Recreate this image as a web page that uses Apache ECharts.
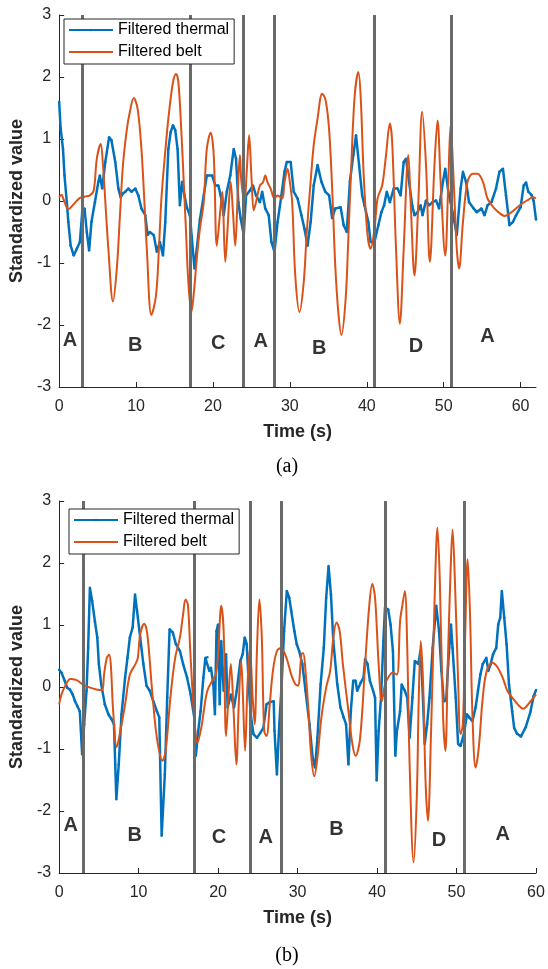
<!DOCTYPE html>
<html>
<head>
<meta charset="utf-8">
<script src="https://cdn.jsdelivr.net/npm/echarts@6/dist/echarts.min.js"></script>
<style>html,body{margin:0;padding:0;background:#fff;}#c{width:548px;height:969px;}</style>
</head>
<body>
<div id="c"></div>
<script>
// ---- data (time s, standardized value) ----
const xTicksA = [0, 10, 20, 30, 40, 50, 60];
const xTicksB = [0, 10, 20, 30, 40, 50, 60];
const boundaries = [3, 17, 24, 28, 41, 51];
const regionNames = ['A', 'B', 'C', 'A', 'B', 'D', 'A'];
const regionPosA = [[1.4,-2.25],[9.9,-2.33],[20.7,-2.3],[26.2,-2.27],[33.8,-2.38],[46.4,-2.35],[55.7,-2.19]];
const regionPosB = [[1.45,-2.24],[9.5,-2.39],[20.1,-2.42],[26.0,-2.42],[34.9,-2.3],[47.8,-2.48],[55.8,-2.38]];

const thermalA = [[0,1.6],[0.2,1.17],[0.5,0.84],[0.7,0.41],[1.0,-0.02],[1.2,-0.34],[1.5,-0.72],[1.9,-0.88],[2.3,-0.77],[2.7,-0.66],[3.0,-0.18],[3.3,-0.12],[3.6,-0.5],[3.9,-0.8],[4.2,-0.34],[4.65,-0.02],[5.1,0.31],[5.3,0.41],[5.6,0.2],[6.0,0.63],[6.5,1.03],[6.8,0.98],[7.3,0.63],[7.7,0.2],[8.0,0.06],[8.3,0.12],[8.6,0.15],[9.0,0.2],[9.4,0.15],[9.9,0.2],[10.3,0.09],[10.7,-0.12],[11.2,-0.23],[11.5,-0.55],[11.8,-0.5],[12.3,-0.55],[12.7,-0.82],[13.1,-0.66],[13.5,-0.88],[13.8,-0.34],[14.2,0.84],[14.5,1.11],[14.8,1.22],[15.1,1.14],[15.4,0.84],[15.7,-0.07],[16.0,0.31],[16.3,0.09],[16.6,-0.1],[17.0,-0.23],[17.6,-1.09],[17.9,-0.77],[18.3,-0.3],[18.8,0.09],[19.2,0.41],[19.9,0.41],[20.3,0.25],[20.7,0.25],[21.0,0.09],[21.4,-0.23],[21.8,0.15],[22.25,0.41],[22.7,0.84],[23.0,0.68],[23.3,-0.02],[23.6,-0.28],[24.0,-0.55],[24.3,0.09],[24.8,0.17],[25.2,0.25],[25.6,0.09],[26.1,-0.02],[26.4,0.15],[26.8,-0.12],[27.25,-0.23],[27.6,-0.66],[28.0,-0.82],[28.4,-0.34],[28.9,0.09],[29.3,0.47],[29.6,0.63],[30.1,0.63],[30.5,0.15],[31.0,0.04],[31.5,-0.23],[31.9,-0.45],[32.3,-0.72],[32.7,-0.34],[33.1,0.25],[33.6,0.58],[34.1,0.31],[34.6,0.15],[35.1,0.09],[35.5,-0.28],[35.9,-0.12],[36.6,-0.1],[37.0,-0.39],[37.4,-0.5],[37.8,0.31],[38.25,0.74],[38.6,1.06],[39.0,0.58],[39.4,0.09],[39.7,-0.07],[40.2,-0.34],[40.5,-0.66],[41.0,-0.66],[41.5,-0.39],[41.9,-0.18],[42.25,-0.07],[42.6,0.15],[43.0,-0.02],[43.5,0.2],[44.0,0.2],[44.4,0.09],[44.8,0.63],[45.1,0.68],[45.5,0.31],[45.9,-0.07],[46.2,-0.23],[46.6,-0.18],[47.0,-0.07],[47.25,-0.23],[47.7,0.01],[48.1,-0.07],[48.55,-0.02],[49.0,0.01],[49.4,-0.12],[49.9,0.31],[50.2,0.52],[50.6,0.15],[50.9,-0.02],[51.4,-0.34],[51.7,-0.55],[52.2,0.2],[52.5,0.47],[52.9,0.31],[53.3,-0.02],[53.9,-0.12],[54.3,-0.18],[54.9,-0.12],[55.3,-0.23],[55.7,-0.07],[56.2,-0.02],[56.8,0.2],[57.25,0.47],[57.7,0.52],[58.1,0.09],[58.55,-0.39],[59.0,-0.34],[59.4,-0.23],[60.0,-0.1],[60.4,0.25],[60.7,0.3],[61.0,0.15],[61.4,0.1],[61.7,0.0],[62.0,-0.3]];

const beltA = [[0,0.06],[0.3,0.1],[0.6,0.02],[1.2,-0.13],[1.9,-0.05],[2.7,0.05],[3.3,0.07],[4.0,0.09],[4.5,0.17],[4.9,0.68],[5.4,0.92],[5.7,0.58],[6.1,-0.2],[6.4,-0.77],[7.0,-1.62],[7.5,-1.09],[7.9,-0.25],[8.3,0.58],[8.8,1.15],[9.2,1.44],[9.7,1.66],[10.2,1.49],[10.7,0.84],[11.1,-0.05],[11.4,-0.77],[12.0,-1.84],[12.6,-1.52],[13.0,-0.7],[13.3,0.04],[13.8,0.8],[14.2,1.33],[14.6,1.75],[14.9,1.97],[15.2,2.05],[15.5,1.92],[15.9,1.1],[16.2,0.31],[16.5,-0.5],[16.8,-1.31],[17.2,-1.79],[17.5,-1.5],[17.9,-0.93],[18.3,-0.45],[18.8,-0.02],[19.2,0.84],[19.7,1.1],[20.1,0.74],[20.5,-0.72],[20.9,-0.23],[21.2,0.15],[21.6,-0.98],[21.9,-0.45],[22.3,0.31],[22.6,-0.18],[22.9,-0.72],[23.2,0.04],[23.5,0.74],[23.7,0.31],[24.1,-0.02],[24.4,0.5],[24.7,1.06],[25.0,0.4],[25.3,-0.15],[25.6,-0.02],[26.1,0.25],[26.5,0.3],[26.8,0.41],[27.1,0.3],[27.5,0.2],[28.0,0.04],[28.4,0.09],[29.0,0.04],[29.3,0.3],[29.7,0.52],[30.0,0.3],[30.3,-0.02],[30.7,-1.2],[31.25,-1.79],[31.8,-1.31],[32.2,-0.5],[32.7,0.31],[33.1,0.9],[33.6,1.33],[34.2,1.73],[34.6,1.65],[35.0,1.3],[35.3,0.74],[35.6,-0.1],[35.9,-1.04],[36.3,-1.8],[36.7,-2.16],[37.25,-1.58],[37.6,-0.6],[37.9,0.31],[38.4,1.65],[38.9,2.08],[39.2,1.7],[39.6,0.41],[40.1,-0.55],[40.5,-0.77],[41.0,-0.45],[41.4,0.04],[42.0,0.25],[42.5,0.74],[43.0,1.25],[43.3,0.95],[43.8,-0.77],[44.3,-1.98],[44.8,-0.77],[45.4,0.74],[45.7,-0.02],[46.2,-1.2],[46.7,-0.02],[47.2,1.44],[47.7,0.58],[48.2,-0.98],[48.8,0.58],[49.2,1.3],[49.6,0.31],[50.2,-0.88],[50.6,0.31],[50.9,1.23],[51.3,0.31],[51.7,-0.77],[52.0,-1.09],[52.5,-0.34],[53.1,0.31],[53.8,0.44],[54.4,0.44],[55.1,0.31],[55.7,0.04],[56.6,-0.12],[57.3,-0.2],[57.9,-0.24],[58.6,-0.2],[59.4,-0.12],[60.2,-0.04],[61.0,0.02],[61.6,0.06],[62,0.04]];

const thermalB = [[0,0.28],[0.3,0.23],[0.7,0.1],[1.0,-0.01],[1.35,-0.04],[1.7,-0.12],[2.0,-0.23],[2.3,-0.31],[2.6,-0.39],[2.9,-1.09],[3.15,-0.6],[3.45,-0.06],[3.65,0.63],[3.87,1.6],[4.15,1.39],[4.5,1.06],[4.8,0.8],[5.0,0.37],[5.3,0.04],[5.75,-0.28],[6.2,-0.44],[6.6,-0.52],[6.9,-0.6],[7.2,-1.81],[7.5,-1.25],[7.85,-0.44],[8.3,0.15],[8.6,0.47],[8.9,0.8],[9.25,0.96],[9.55,1.49],[9.8,1.23],[10.2,0.8],[10.6,0.37],[11.0,0.02],[11.4,-0.06],[11.85,-0.23],[12.3,-0.39],[12.6,-0.49],[12.9,-2.4],[13.3,-1.41],[13.6,-0.17],[13.9,0.93],[14.3,0.88],[14.7,0.69],[15.2,0.58],[15.6,0.37],[16.1,0.15],[16.55,-0.12],[17.0,-0.49],[17.2,-1.11],[17.5,-0.71],[17.8,-0.39],[18.15,0.15],[18.4,0.47],[18.65,0.48],[18.9,0.26],[19.1,0.31],[19.4,0.04],[19.6,-0.44],[19.8,0.9],[20.0,1.01],[20.2,-0.28],[20.4,0.74],[20.7,-0.06],[21.0,0.53],[21.2,-0.33],[21.6,-0.12],[22.0,-0.33],[22.35,-0.06],[22.8,0.42],[23.1,0.53],[23.35,0.8],[23.6,0.69],[23.9,-0.06],[24.1,-0.44],[24.45,-0.76],[24.9,-0.82],[25.3,-0.74],[25.7,-0.66],[26.1,-0.28],[26.55,-0.24],[27.0,-0.23],[27.1,-0.71],[27.4,-1.41],[27.7,-0.6],[28.0,0.04],[28.3,0.9],[28.65,1.55],[28.95,1.44],[29.2,1.23],[29.6,0.9],[29.9,0.69],[30.2,0.58],[30.6,0.37],[31.0,-0.06],[31.5,-0.6],[31.9,-1.14],[32.2,-1.3],[32.5,-0.82],[32.9,0.04],[33.3,0.63],[33.6,1.44],[33.9,1.95],[34.2,1.49],[34.5,0.74],[35.0,0.04],[35.4,-0.33],[35.8,-0.49],[36.1,-0.6],[36.4,-1.25],[36.7,-0.39],[37.0,0.1],[37.3,0.1],[37.5,-0.06],[37.95,0.07],[38.3,0.15],[38.5,0.45],[38.8,0.37],[39.1,0.1],[39.5,-0.06],[39.75,-0.17],[39.95,-1.51],[40.2,-0.71],[40.5,-0.17],[40.8,0.74],[41.0,1.28],[41.4,1.25],[41.7,1.01],[42.0,0.58],[42.3,-1.11],[42.5,-0.71],[42.9,-0.39],[43.1,0.04],[43.5,-0.06],[43.8,-0.17],[44.1,-0.82],[44.45,-0.17],[44.75,0.42],[45.2,0.37],[45.45,0.58],[45.7,0.04],[46.0,-0.92],[46.3,-0.6],[46.6,-0.17],[47.0,0.63],[47.25,1.01],[47.45,1.31],[47.8,0.9],[48.1,0.26],[48.4,-0.23],[48.7,-0.22],[48.95,0.37],[49.3,1.01],[49.5,0.63],[49.9,-0.17],[50.2,-0.92],[50.5,-0.95],[50.8,-0.82],[51.0,-0.71],[51.3,-0.44],[51.6,-0.49],[52.0,-0.55],[52.4,-0.33],[52.7,-0.06],[53.0,0.2],[53.3,0.37],[53.75,0.47],[54.0,0.26],[54.3,0.37],[54.6,0.53],[55.0,0.63],[55.25,1.01],[55.5,1.12],[55.7,1.55],[56.0,1.12],[56.3,0.69],[56.6,0.04],[57.0,-0.39],[57.25,-0.66],[57.6,-0.75],[58.1,-0.8],[58.7,-0.65],[59.3,-0.4],[59.7,-0.15],[60,-0.05]];

const beltB = [[0,-0.28],[0.3,-0.12],[0.85,0.04],[1.4,0.13],[2.2,0.11],[3.0,0.04],[3.9,-0.01],[4.7,-0.04],[5.4,-0.05],[5.65,0.2],[6.0,0.47],[6.3,0.52],[6.5,0.37],[6.8,-0.39],[7.25,-0.97],[7.7,-0.71],[8.3,-0.28],[8.9,0.2],[9.6,0.37],[9.9,0.47],[10.2,0.85],[10.7,1.02],[11.1,0.85],[11.7,-0.06],[12.3,-0.82],[13.0,-1.19],[13.4,-1.03],[14.0,-0.17],[14.6,0.47],[15.2,0.8],[15.6,1.17],[15.9,1.41],[16.2,1.33],[16.5,0.58],[17.0,-0.49],[17.4,-0.9],[17.9,-0.65],[18.2,-0.39],[18.65,-0.06],[19.3,0.11],[19.7,0.2],[20.0,0.53],[20.4,1.31],[20.7,0.9],[21.0,-0.79],[21.3,-0.17],[21.6,0.37],[21.95,-0.39],[22.3,-1.25],[22.6,-0.28],[22.9,0.42],[23.1,-0.06],[23.4,-1.03],[23.7,0.04],[24.0,0.63],[24.35,-0.17],[24.6,-0.6],[24.9,0.63],[25.2,1.41],[25.5,0.8],[25.8,-0.71],[26.1,-0.79],[26.5,-0.28],[26.9,0.26],[27.4,0.58],[27.9,0.63],[28.6,0.47],[29.2,0.2],[29.7,0.05],[30.05,0.02],[30.5,0.53],[30.7,0.55],[31.0,0.26],[31.4,-0.44],[31.7,-1.09],[32.1,-1.44],[32.5,-1.14],[33.0,-0.49],[33.6,-0.01],[34.1,0.26],[34.5,0.8],[34.9,1.04],[35.3,0.9],[35.7,0.37],[36.4,-0.39],[36.9,-0.92],[37.3,-1.11],[37.85,-0.85],[38.5,0.37],[39.0,1.28],[39.4,1.66],[39.75,1.44],[40.2,0.37],[40.6,-0.23],[41.0,0.04],[41.4,0.15],[41.95,0.23],[42.5,0.2],[42.9,1.06],[43.2,1.33],[43.5,1.55],[43.8,0.63],[44.1,-1.25],[44.6,-2.83],[45.0,-1.78],[45.25,-0.17],[45.5,0.74],[45.8,0.04],[46.1,-1.51],[46.4,-2.16],[46.8,-0.71],[47.25,1.44],[47.6,2.57],[47.9,1.71],[48.3,-0.44],[48.6,-1.03],[48.9,0.37],[49.25,1.87],[49.5,2.54],[49.8,1.71],[50.2,0.1],[50.5,-0.76],[50.8,-0.6],[51.1,0.9],[51.4,2.06],[51.7,1.17],[52.0,-0.44],[52.4,-1.3],[52.8,-0.98],[53.3,-0.17],[53.8,0.26],[54.5,0.39],[55.2,0.31],[55.8,0.15],[56.4,-0.06],[57.0,-0.17],[57.7,-0.28],[58.4,-0.35],[59.2,-0.25],[60,-0.12]];

// ---- chart ----
const FONT = '"Liberation Sans", Arial, Helvetica, sans-serif';
const BLUE = '#0072BD', ORANGE = '#D95319', AX = '#262626';

function xAxisCfg(gi, max, ticks) {
  return {
    type: 'value', gridIndex: gi, min: 0, max: max, interval: 10,
    name: 'Time (s)', nameLocation: 'middle', nameGap: 36,
    nameTextStyle: { fontFamily: FONT, fontSize: 18, fontWeight: 'bold', color: AX },
    axisLine: { show: true, onZero: false, lineStyle: { color: AX, width: 1 } },
    axisTick: { show: true, inside: true, length: 5, lineStyle: { color: AX }, customValues: ticks },
    axisLabel: { fontFamily: FONT, fontSize: 16, color: AX, margin: 12, customValues: ticks },
    splitLine: { show: false }
  };
}
function yAxisCfg(gi) {
  return {
    type: 'value', gridIndex: gi, min: -3, max: 3, interval: 1,
    name: 'Standardized value', nameLocation: 'middle', nameGap: 32, nameRotate: 90,
    nameTextStyle: { fontFamily: FONT, fontSize: 18, fontWeight: 'bold', color: AX },
    axisLine: { show: true, onZero: false, lineStyle: { color: AX, width: 1 } },
    axisTick: { show: true, inside: true, length: 5, lineStyle: { color: AX } },
    axisLabel: { fontFamily: FONT, fontSize: 16, color: AX, margin: 8 },
    splitLine: { show: false }
  };
}
function thermalSeries(gi, data) {
  return { name: 'Filtered thermal', type: 'line', xAxisIndex: gi, yAxisIndex: gi, data: data,
    symbol: 'circle', symbolSize: 2.5, showSymbol: true, showAllSymbol: true,
    itemStyle: { color: BLUE }, lineStyle: { color: BLUE, width: 2.5 }, z: 2, silent: true };
}
function beltSeries(gi, data) {
  return { name: 'Filtered belt', type: 'line', xAxisIndex: gi, yAxisIndex: gi, data: data,
    symbol: 'none', smooth: 0.35, itemStyle: { color: ORANGE }, lineStyle: { color: ORANGE, width: 2 }, z: 3, silent: true };
}
function regionSeries(gi, pos) {
  return { type: 'scatter', xAxisIndex: gi, yAxisIndex: gi, symbolSize: 0, z: 5, silent: true,
    data: pos.map((p, i) => ({ value: p, name: regionNames[i] })),
    label: { show: true, position: 'inside', formatter: '{L|{b}}',
      rich: { L: { fontFamily: FONT, fontSize: 20, fontWeight: 'bold', color: '#000' } } },
    markLine: { silent: true, symbol: ['none', 'none'], label: { show: false },
      lineStyle: { color: '#6a6a6a', width: 3, type: 'solid', opacity: 1 },
      emphasis: { disabled: true },
      data: boundaries.map(b => ({ xAxis: b })) }
  };
}
function legendCfg(left, top) {
  return {
    left: left, top: top, orient: 'vertical', z: 20,
    data: [{ name: 'Filtered thermal' }, { name: 'Filtered belt', itemStyle: { opacity: 0 } }],
    backgroundColor: '#fff', borderColor: AX, borderWidth: 1, borderRadius: 0,
    padding: [3, 5, 4, 4], itemGap: 6, itemWidth: 44, itemHeight: 3, selectedMode: false,
    textStyle: { fontFamily: FONT, fontSize: 16, color: '#000', lineHeight: 16 }
  };
}

const chart = echarts.init(document.getElementById('c'), null, { renderer: 'canvas' });
chart.setOption({
  animation: false,
  backgroundColor: '#fff',
  grid: [
    { left: 59, top: 15, width: 477, height: 372 },
    { left: 59, top: 501, width: 477, height: 372 }
  ],
  xAxis: [xAxisCfg(0, 62, xTicksA), xAxisCfg(1, 60, xTicksB)],
  yAxis: [yAxisCfg(0), yAxisCfg(1)],
  legend: [legendCfg(64, 19), legendCfg(69, 509)],
  series: [
    thermalSeries(0, thermalA), beltSeries(0, beltA), regionSeries(0, regionPosA),
    thermalSeries(1, thermalB), beltSeries(1, beltB), regionSeries(1, regionPosB)
  ],
  graphic: [
    { type: 'text', x: 287, y: 467, style: { text: '(a)', font: '20px "Liberation Serif", "Times New Roman", serif', fill: '#000', textAlign: 'center', textVerticalAlign: 'middle' } },
    { type: 'text', x: 287, y: 956, style: { text: '(b)', font: '20px "Liberation Serif", "Times New Roman", serif', fill: '#000', textAlign: 'center', textVerticalAlign: 'middle' } }
  ]
});
</script>
</body>
</html>
